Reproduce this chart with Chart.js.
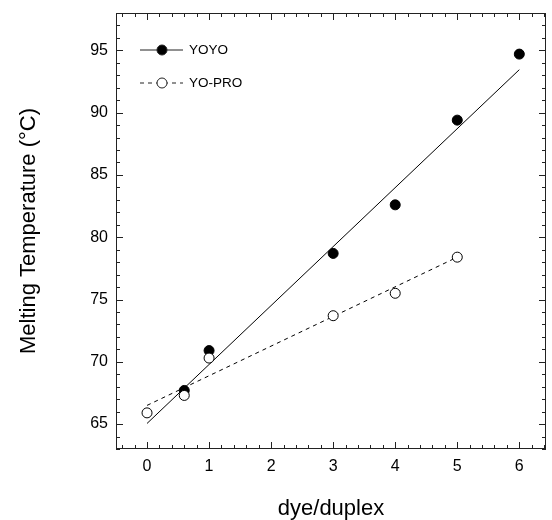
<!DOCTYPE html>
<html>
<head>
<meta charset="utf-8">
<script src="https://cdn.jsdelivr.net/npm/chart.js@4/dist/chart.umd.min.js"></script>
<style>
  html, body { margin: 0; padding: 0; background: #fff; }
  #wrap { width: 552px; height: 520px; }
</style>
</head>
<body>
<div id="wrap"><canvas id="grafico"></canvas></div>
<script>
// datos
const seriesNames = ['YOYO', 'YO-PRO'];
const yoyoX = [0.6, 1, 3, 4, 5, 6];
const yoyoY = [67.7, 70.9, 78.7, 82.6, 89.4, 94.7];
const yoproX = [0, 0.6, 1, 3, 4, 5];
const yoproY = [65.9, 67.3, 70.3, 73.7, 75.5, 78.4];
// rectas de ajuste (extremos)
const yoyoFitX = [0, 6];
const yoyoFitY = [65.05, 93.45];
const yoproFitX = [0, 5];
const yoproFitY = [66.5, 78.4];
const xTickLabels = [0, 1, 2, 3, 4, 5, 6];
const yTickLabels = [65, 70, 75, 80, 85, 90, 95];

const xyPairs = (xs, ys) => xs.map((x, i) => ({ x: x, y: ys[i] }));

const fuente = "'Liberation Sans', Arial, sans-serif";

// ticks hacia dentro en los cuatro lados + marco
const marcoPlugin = {
    id: 'marco',
    afterDraw(chart) {
        const ctx = chart.ctx;
        const a = chart.chartArea;
        const sx = chart.scales.x, sy = chart.scales.y;
        ctx.save();
        ctx.strokeStyle = '#222';
        ctx.lineWidth = 1;
        ctx.strokeRect(Math.round(a.left) + 0.5, Math.round(a.top) + 0.5,
            Math.round(a.right - a.left) - 1, Math.round(a.bottom - a.top) - 1);
        ctx.beginPath();
        for (let i = -2; i <= 32; i++) {
            const v = i / 5;
            if (v < sx.min || v > sx.max) continue;
            const px = Math.round(sx.getPixelForValue(v)) + 0.5;
            const len = (i % 5 === 0) ? 7 : 4;
            ctx.moveTo(px, a.bottom); ctx.lineTo(px, a.bottom - len);
            ctx.moveTo(px, a.top); ctx.lineTo(px, a.top + len);
        }
        for (let v = 63; v <= 98; v++) {
            if (v < sy.min || v > sy.max) continue;
            const py = Math.round(sy.getPixelForValue(v)) + 0.5;
            const len = (v % 5 === 0) ? 7 : 4;
            ctx.moveTo(a.left, py); ctx.lineTo(a.left + len, py);
            ctx.moveTo(a.right, py); ctx.lineTo(a.right - len, py);
        }
        ctx.stroke();

        // leyenda dentro del área
        const filas = [
            { nombre: seriesNames[0], relleno: '#000', dash: [] },
            { nombre: seriesNames[1], relleno: '#fff', dash: [4, 4] }
        ];
        ctx.font = '13.5px ' + fuente;
        ctx.textBaseline = 'middle';
        ctx.fillStyle = '#000';
        filas.forEach((f, i) => {
            const y = a.top + 37 + i * 33;
            const x0 = a.left + 24;
            ctx.beginPath();
            ctx.setLineDash(f.dash);
            ctx.moveTo(x0, y); ctx.lineTo(x0 + 43, y);
            ctx.stroke();
            ctx.setLineDash([]);
            ctx.beginPath();
            ctx.arc(x0 + 22, y, 5, 0, Math.PI * 2);
            ctx.fillStyle = f.relleno;
            ctx.fill();
            ctx.stroke();
            ctx.fillStyle = '#000';
            ctx.fillText(f.nombre, x0 + 49, y);
        });
        ctx.restore();
    }
};

const ctx = document.getElementById('grafico').getContext('2d');
new Chart(ctx, {
    type: 'scatter',
    data: {
        datasets: [
            {
                label: seriesNames[1],
                data: xyPairs(yoproX, yoproY),
                showLine: false,
                pointRadius: 5,
                pointBackgroundColor: '#fff',
                pointBorderColor: '#000',
                pointBorderWidth: 1,
                order: 0
            },
            {
                label: seriesNames[0],
                data: xyPairs(yoyoX, yoyoY),
                showLine: false,
                pointRadius: 5,
                pointBackgroundColor: '#000',
                pointBorderColor: '#000',
                pointBorderWidth: 1,
                order: 1
            },
            {
                label: seriesNames[0] + ' ajuste',
                data: xyPairs(yoyoFitX, yoyoFitY),
                showLine: true,
                borderColor: '#000',
                borderWidth: 1,
                pointRadius: 0,
                order: 2
            },
            {
                label: seriesNames[1] + ' ajuste',
                data: xyPairs(yoproFitX, yoproFitY),
                showLine: true,
                borderColor: '#000',
                borderWidth: 1,
                borderDash: [4, 4],
                pointRadius: 0,
                order: 2
            }
        ]
    },
    options: {
        responsive: true,
        maintainAspectRatio: false,
        animation: false,
        layout: { padding: { top: 13, right: 4, left: 0, bottom: 0 } },
        plugins: {
            legend: { display: false },
            tooltip: { enabled: false }
        },
        scales: {
            x: {
                type: 'linear',
                min: -0.5,
                max: 6.43,
                grid: { display: false, drawTicks: false },
                border: { display: false },
                afterBuildTicks: s => { s.ticks = xTickLabels.map(v => ({ value: v })); },
                afterFit: s => { s.height = 71; s.paddingLeft = 0; s.paddingRight = 0; },
                ticks: { color: '#000', padding: 8, font: { family: fuente, size: 16 } },
                title: {
                    display: true,
                    text: 'dye/duplex',
                    color: '#000',
                    padding: 0,
                    font: { family: fuente, size: 22, lineHeight: 1 }
                }
            },
            y: {
                type: 'linear',
                min: 63,
                max: 98,
                grid: { display: false, drawTicks: false },
                border: { display: false },
                afterBuildTicks: s => { s.ticks = yTickLabels.map(v => ({ value: v })); },
                afterFit: s => { s.width = 116; s.paddingTop = 0; s.paddingBottom = 0; },
                ticks: { color: '#000', padding: 8, font: { family: fuente, size: 16 } },
                title: {
                    display: true,
                    text: 'Melting Temperature (°C)',
                    color: '#000',
                    padding: { top: 18, bottom: 0 },
                    font: { family: fuente, size: 22, lineHeight: 1 }
                }
            }
        }
    },
    plugins: [marcoPlugin]
});
</script>
</body>
</html>
